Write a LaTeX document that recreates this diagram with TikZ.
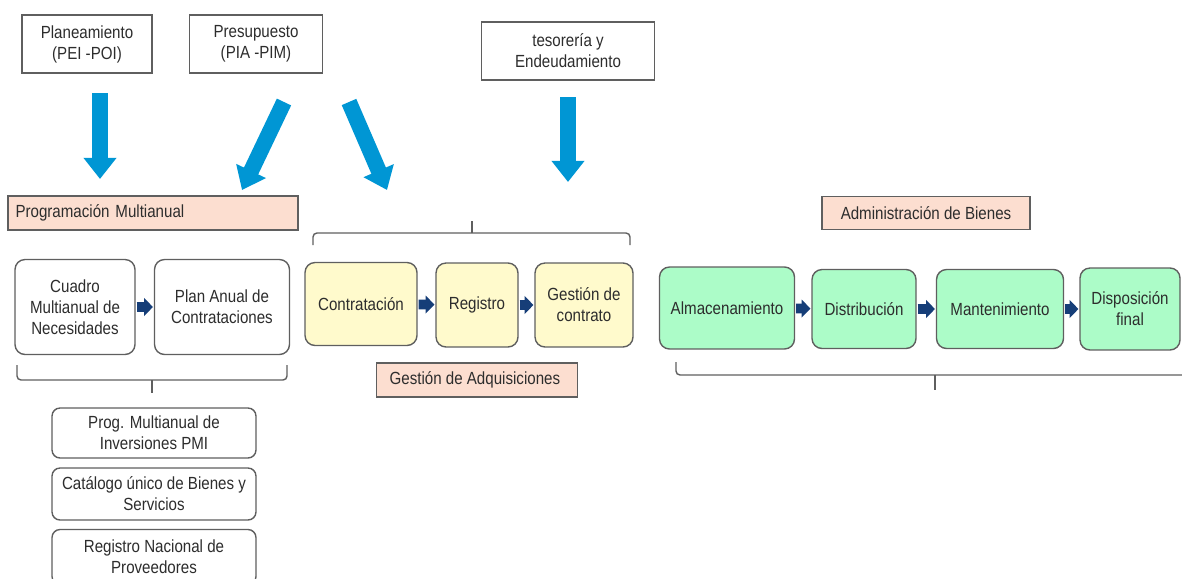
\documentclass[tikz,border=0pt]{standalone}
\usepackage{fontspec}
\setmainfont{Liberation Sans}[FakeStretch=0.86]
\usetikzlibrary{
  positioning,
  calc,
  arrows.meta}
\definecolor{bordercolor}{RGB}{95,95,95}
\definecolor{textcolor}{RGB}{45,45,45}
\definecolor{labelcolor}{RGB}{252,222,208}
\definecolor{adqcolor}{RGB}{255,250,204}
\definecolor{bienescolor}{RGB}{172,252,200}
\definecolor{flowcolor}{RGB}{0,150,212}
\definecolor{linkcolor}{RGB}{22,62,120}
\tikzset{
  %% source : the planning / budget / treasury boxes
  source/.style={
    rectangle,
    draw=bordercolor,
    line width=0.8pt,
    fill=white,
    minimum height=1.16cm,
    align=center
  },
  %% phase : a label naming a group of steps
  phase/.style={
    rectangle,
    draw=bordercolor,
    line width=0.8pt,
    fill=labelcolor,
    minimum height=0.68cm,
    align=center
  },
  %% planstep : a programming step
  planstep/.style={
    rectangle,
    rounded corners=0.2cm,
    draw=bordercolor,
    line width=0.8pt,
    fill=white,
    align=center
  },
  %% adqstep : an acquisition step
  adqstep/.style={
    planstep,
    fill=adqcolor
  },
  %% bienstep : an asset step
  bienstep/.style={
    planstep,
    fill=bienescolor
  },
  %% flow : big blue arrow
  flow/.style={
    flowcolor,
    line width=9pt,
    -{Triangle[width=18pt,length=12pt]}
  },
  %% link : small arrow between steps
  link/.style={
    linkcolor,
    line width=5.5pt,
    shorten <=0.5pt,
    shorten >=0.5pt,
    -{Triangle[width=10pt,length=5pt]}
  },
  %% bracket : grouping bracket
  bracket/.style={bordercolor, line width=0.8pt, rounded corners=0.08cm}
}

\begin{document}
\begin{tikzpicture}
  [x=0.02cm,
  y=-0.02cm,
  text=textcolor]
  \fontsize{10}{12}\selectfont
  \useasboundingbox (0, 0) rectangle (1182, 578);

  %% Sources
  \node (planea) [source, minimum width=2.6cm] at (87, 44) {%
    Planeamiento\\
    (PEI -POI)
  };
  \node (presup) [source, minimum width=2.66cm] at (256, 44) {%
    Presupuesto\\
    (PIA -PIM)
  };
  \node (tesor) [source, minimum width=3.46cm] at (568, 51) {%
    tesorería y\\
    Endeudamiento
  };

  %% Phase labels
  \node (progmult) [phase, minimum width=5.8cm, text width=5.5cm, align=left]
  at (153, 213) {Programación Multianual};
  \node (adquis) [phase, minimum width=4.02cm] at (477, 380) {%
    Gestión de Adquisiciones
  };
  \node (bienes) [phase, minimum width=4.16cm, minimum height=0.66cm]
  at (926, 213) {Administración de Bienes};

  %% Programming steps
  \node (cuadro) [planstep, minimum width=2.4cm, minimum height=1.9cm]
  at (75, 307) {%
    Cuadro\\
    Multianual de\\
    Necesidades
  };
  \node (pac) [planstep, minimum width=2.7cm, minimum height=1.9cm]
  at (222, 307) {%
    Plan Anual de\\
    Contrataciones
  };

  %% Acquisition steps
  \node (contrat) [adqstep, minimum width=2.24cm, minimum height=1.66cm]
  at (361, 304) {Contratación};
  \node (registro) [adqstep, minimum width=1.64cm, minimum height=1.68cm]
  at (477, 305) {Registro};
  \node (gestion) [adqstep, minimum width=1.96cm, minimum height=1.68cm]
  at (584, 305) {%
    Gestión de\\
    contrato
  };

  %% Asset steps
  \node (almacen) [bienstep, minimum width=2.7cm, minimum height=1.64cm]
  at (727, 308) {Almacenamiento};
  \node (distrib) [bienstep, minimum width=2.08cm, minimum height=1.58cm]
  at (864, 309) {Distribución};
  \node (manten) [bienstep, minimum width=2.54cm, minimum height=1.58cm]
  at (1000, 309) {Mantenimiento};
  \node (dispos) [bienstep, minimum width=2.0cm, minimum height=1.64cm]
  at (1130, 309) {%
    Disposición\\
    final
  };

  %% Tools under the programming
  \node (pmi) [planstep, rounded corners=0.16cm, minimum width=4.08cm,
  minimum height=1.0cm] at (154, 433) {%
    Prog. Multianual de\\
    Inversiones PMI
  };
  \node (catalogo) [planstep, rounded corners=0.16cm, minimum width=4.08cm,
  minimum height=1.04cm] at (154, 494) {%
    Catálogo único de Bienes y\\
    Servicios
  };
  \node (rnp) [planstep, rounded corners=0.16cm, minimum width=4.08cm,
  minimum height=1.1cm] at (154, 557) {%
    Registro Nacional de\\
    Proveedores
  };

  %% Big arrows
  \coordinate (planeaout) at (100, 93);
  \coordinate (progin) at (100, 179);
  \coordinate (presupoutl) at (284, 102);
  \coordinate (progmultin) at (242, 190);
  \coordinate (presupoutr) at (349, 102);
  \coordinate (adqin) at (387, 190);
  \coordinate (tesorout) at (568, 97);
  \coordinate (gestin) at (568, 182);
  \draw [flow] (planeaout) -- (progin);
  \draw [flow] (presupoutl) -- (progmultin);
  \draw [flow] (presupoutr) -- (adqin);
  \draw [flow] (tesorout) -- (gestin);

  %% Connections
  \draw [link] (cuadro) -- (pac);
  \draw [link] (contrat) -- (registro);
  \draw [link] (registro) -- (gestion);
  \draw [link] (almacen) -- (distrib);
  \draw [link] (distrib) -- (manten);
  \draw [link] (manten) -- (dispos);

  %% Brackets
  \draw [bracket] (313, 245) -- (313, 233) -- (630, 233) -- (630, 245);
  \draw [bracket] (472, 233) -- (472, 221);
  \draw [bracket] (17, 365) -- (17, 380) -- (287, 380) -- (287, 365);
  \draw [bracket] (152, 380) -- (152, 393);
  \draw [bracket] (676, 362) -- (676, 375) -- (1190, 375);
  \draw [bracket] (935, 375) -- (935, 390);

\end{tikzpicture}
\end{document}
